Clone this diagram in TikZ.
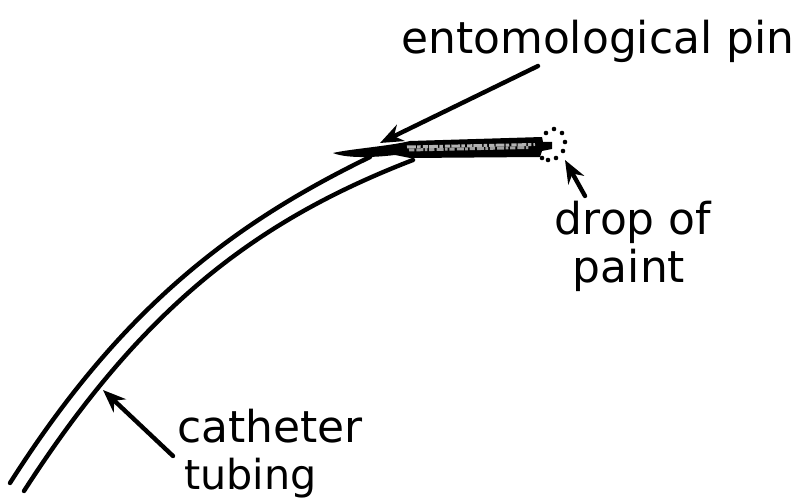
\documentclass[tikz,border=0pt]{standalone}
\usepackage{fontspec}
\setmainfont{DejaVu Sans}
\usetikzlibrary{arrows.meta}
\begin{document}
\begin{tikzpicture}[x=0.02cm,y=-0.02cm,>={Stealth[length=4.6mm,width=3.6mm]},line cap=round,line join=round]
\useasboundingbox (0,0) rectangle (804,502);
\coordinate (a) at (10,483);
\coordinate (b) at (370,157);
\coordinate (c) at (24,491);
\coordinate (d) at (413,160);
\coordinate (e) at (538,66);
\coordinate (f) at (380,143);
\coordinate (g) at (585,196);
\coordinate (h) at (565,160);
\coordinate (i) at (173,456);
\coordinate (j) at (103,390);
\draw[line width=2.5pt] (a) .. controls (120,310) and (230,225) .. (b);
\draw[line width=2.5pt] (c) .. controls (142,308) and (255,221) .. (d);
\fill (333,153) .. controls (350,149) and (390,146) .. (410,141) -- (542,137) -- (543,142) -- (552,142) -- (552,149) -- (542,151) -- (540,157) -- (410,158) -- (395,155) .. controls (370,158) and (345,158) .. (333,153) -- cycle;
\draw[gray!60,line width=1.7pt,line cap=butt,dash pattern=on 5pt off 0.8pt on 2pt off 1.2pt on 3pt off 0.6pt] (407,147) -- (535,144.5);
\draw[gray!75,line width=1.7pt,line cap=butt,dash pattern=on 3pt off 1.2pt on 4pt off 0.8pt on 1.5pt off 1pt] (409,150) -- (530,147.5);
\foreach \px/\py in {546/133,554/129,562/133,565/142,563/151,556/158,548/160,542/158}
  \fill (\px,\py) circle (1.3pt);
\draw[->,line width=2.5pt] (e) -- (f);
\draw[->,line width=2.5pt] (g) -- (h);
\draw[->,line width=2.5pt] (i) -- (j);
\node[anchor=base west,inner sep=0pt,font=\fontsize{25}{30}\selectfont] (pin) at (401,54) {entomological pin};
\node[anchor=base,inner sep=0pt,font=\fontsize{25}{30}\selectfont] (drop) at (633,235) {drop of};
\node[anchor=base,inner sep=0pt,font=\fontsize{25}{30}\selectfont] (paint) at (629,283) {paint};
\node[anchor=base west,inner sep=0pt,font=\fontsize{25}{30}\selectfont] (catheter) at (177,443) {catheter};
\node[anchor=base west,inner sep=0pt,font=\fontsize{23.5}{30}\selectfont] (tubing) at (184,490) {tubing};
\end{tikzpicture}
\end{document}
